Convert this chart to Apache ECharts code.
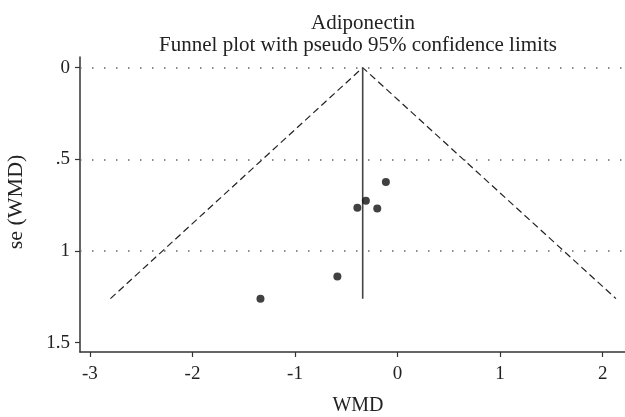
<!DOCTYPE html>
<html>
<head>
<meta charset="utf-8">
<script src="https://cdn.jsdelivr.net/npm/echarts@6/dist/echarts.min.js"></script>
<style>
html,body{margin:0;padding:0;background:#fff;}
#c{width:625px;height:417px;}
</style>
</head>
<body>
<div id="c"></div>
<script>
// Study estimates (WMD) and their standard errors
var studyWMD = [-0.114, -0.309, -0.392, -0.198, -0.587, -1.337];
var studySE  = [0.624, 0.726, 0.764, 0.768, 1.139, 1.260];
// Pseudo 95% confidence limit funnel (left end, apex, right end)
var funnelWMD = [-2.80, -0.34, 2.13];
var funnelSE  = [1.26, 0, 1.26];
// Pooled estimate vertical line
var pooledWMD = [-0.34, -0.34];
var pooledSE  = [0, 1.26];
// Tick labels
var xTicks = [-3, -2, -1, 0, 1, 2];
var yTicks = [0, 0.5, 1, 1.5];
var yTickLabels = ['0', '.5', '1', '1.5'];
var gridLines = [0, 0.5, 1];

var FONT = '"Liberation Serif", "DejaVu Serif", serif';
var chart = echarts.init(document.getElementById('c'));

function pairs(xs, ys){ return xs.map(function(x,i){ return [x, ys[i]]; }); }

chart.setOption({
  animation: false,
  backgroundColor: '#fff',
  grid: {left: 80, right: 0, top: 57, bottom: 65, containLabel: false},
  xAxis: {
    type: 'value', min: -3.097, max: 2.218,
    axisLine: {show: true, onZero: false, lineStyle: {color: '#333', width: 1.5}},
    axisTick: {show: true, length: 5, customValues: xTicks, lineStyle: {color: '#333', width: 1.2}},
    axisLabel: {customValues: xTicks, color: '#222', fontFamily: FONT, fontSize: 19, margin: 13,
      formatter: function(v){ return String(v); }},
    splitLine: {show: false}
  },
  yAxis: {
    type: 'value', inverse: true, min: -0.058, max: 1.551,
    axisLine: {show: true, onZero: false, lineStyle: {color: '#333', width: 1.5}},
    axisTick: {show: true, length: 5, customValues: yTicks, lineStyle: {color: '#333', width: 1.2}},
    axisLabel: {customValues: yTicks, color: '#222', fontFamily: FONT, fontSize: 19, margin: 10,
      formatter: function(v){ var i = yTicks.indexOf(v); return i >= 0 ? yTickLabels[i] : ''; }},
    splitLine: {show: false}
  },
  graphic: [
    {type: 'text', style: {text: 'Adiponectin', x: 363, y: 23, textAlign: 'center', textVerticalAlign: 'middle', font: '21px ' + FONT, fill: '#222'}},
    {type: 'text', style: {text: 'Funnel plot with pseudo 95% confidence limits', x: 358, y: 45, textAlign: 'center', textVerticalAlign: 'middle', font: '21px ' + FONT, fill: '#222'}},
    {type: 'text', style: {text: 'WMD', x: 358, y: 406, textAlign: 'center', textVerticalAlign: 'middle', font: '20px ' + FONT, fill: '#222'}},
    {type: 'text', x: 16, y: 202, rotation: Math.PI/2, style: {text: 'se (WMD)', x: 0, y: 0, textAlign: 'center', textVerticalAlign: 'middle', font: '22px ' + FONT, fill: '#222'}}
  ],
  series: [
    {
      type: 'line', data: [], silent: true,
      markLine: {
        silent: true, symbol: 'none', label: {show: false},
        lineStyle: {type: [1.5, 10.5], color: '#666', width: 1.5},
        data: gridLines.map(function(v){ return {yAxis: v}; })
      }
    },
    {
      type: 'line', data: pairs(funnelWMD, funnelSE), symbol: 'none', silent: true,
      lineStyle: {color: '#222', width: 1.2, type: [7, 4]}
    },
    {
      type: 'line', data: pairs(pooledWMD, pooledSE), symbol: 'none', silent: true,
      lineStyle: {color: '#444', width: 1.6, type: 'solid'}
    },
    {
      type: 'scatter', data: pairs(studyWMD, studySE), symbol: 'circle', symbolSize: 8,
      itemStyle: {color: '#111'}, z: 5
    }
  ]
});
</script>
</body>
</html>
